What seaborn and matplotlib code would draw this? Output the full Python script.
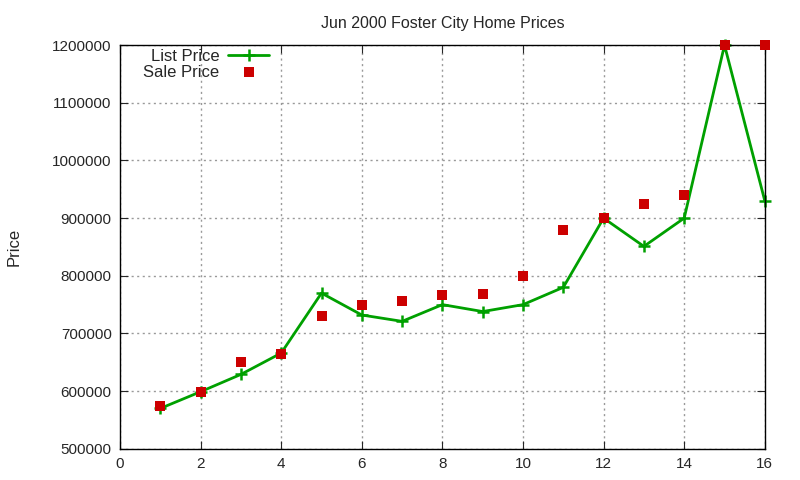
import numpy as np
import pandas as pd
import seaborn as sns
import matplotlib
matplotlib.use("Agg")
import matplotlib.pyplot as plt

# donnees
homes = list(range(1, 17))
list_price = [570000, 599000, 629000, 666000, 770000, 732000, 721000, 750000,
              738000, 750000, 780000, 900000, 851000, 900000, 1200000, 930000]
sale_price = [575000, 599000, 651000, 665000, 731000, 749000, 756000, 766000,
              768000, 800000, 880000, 900000, 925000, 940000, 1200000, 1200000]

df = pd.DataFrame({"home": homes, "list": list_price, "sale": sale_price})

sns.set_style("ticks")
plt.rcParams["font.family"] = ["Liberation Sans", "DejaVu Sans"]

fig = plt.figure(figsize=(8, 4.8), dpi=100)
ax = fig.add_axes([0.15, 0.065, 0.806, 0.841])

sns.lineplot(data=df, x="home", y="list", ax=ax, color="#00a000", linewidth=2,
             marker="+", markersize=8, markeredgewidth=1.8, markeredgecolor="#00a000",
             label="List Price", clip_on=False)
sns.scatterplot(data=df, x="home", y="sale", ax=ax, color="#cc0000", marker="s",
                s=50, linewidth=0, label="Sale Price", clip_on=False, zorder=3)

ax.set_xlim(0, 16)
ax.set_ylim(500000, 1200000)
ax.set_xticks(range(0, 17, 2))
ax.set_yticks(range(500000, 1200001, 100000))
ax.ticklabel_format(axis="y", style="plain", useOffset=False)
ax.grid(True, linestyle=(0, (1.5, 2.5)), color="#999999", linewidth=1)
ax.tick_params(direction="in", top=True, right=True, labelsize=11, length=6, pad=6)
for sp in ax.spines.values():
    sp.set_visible(True)
    sp.set_color("black")
    sp.set_linewidth(1)

ax.set_xlabel("")
ax.set_ylabel("Price", fontsize=12, labelpad=22)
ax.set_title("Jun 2000 Foster City Home Prices", fontsize=11.5, pad=12)

leg = ax.legend(loc="upper left", bbox_to_anchor=(0.018, 1.02), frameon=False,
                markerfirst=False, fontsize=12, handlelength=2.5,
                handletextpad=0.5, labelspacing=0.05, borderaxespad=0.3)
for t in leg.get_texts():
    t.set_ha("right")

fig.savefig("out.png", dpi=100)
